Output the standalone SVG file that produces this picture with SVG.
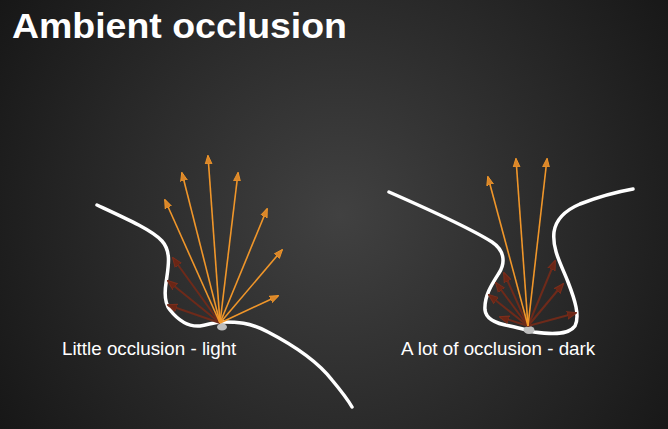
<svg xmlns="http://www.w3.org/2000/svg" width="668" height="429" viewBox="0 0 668 429">
<defs>
<radialGradient id="bg" cx="340" cy="215" r="420" gradientUnits="userSpaceOnUse">
<stop offset="0" stop-color="#414141"/>
<stop offset="1" stop-color="#151515"/>
</radialGradient>
<marker id="ao" viewBox="0 0 10 10" refX="9" refY="5" markerWidth="9" markerHeight="9" orient="auto" markerUnits="userSpaceOnUse">
<path d="M0,1.2 L10,5 L0,8.8 Z" fill="#d9862a" stroke="#f0962a" stroke-width="1"/>
</marker>
<marker id="ar" viewBox="0 0 10 10" refX="9" refY="5" markerWidth="10" markerHeight="10" orient="auto" markerUnits="userSpaceOnUse">
<path d="M0,1.2 L10,5 L0,8.8 Z" fill="#6a2616" stroke="#7a2e1c" stroke-width="1"/>
</marker>
<style>
.surf{fill:none;stroke:#ffffff;stroke-width:3.5;stroke-linecap:round;stroke-linejoin:round}
.o{stroke:#f0962a;stroke-width:1.6;marker-end:url(#ao)}
.r{stroke:#6e2a1a;stroke-width:2;marker-end:url(#ar)}
.lbl{font-family:"Liberation Sans",Arial,sans-serif;font-size:18.8px;fill:#ffffff}
</style>
</defs>
<rect width="668" height="429" fill="url(#bg)"/>
<text x="12" y="38" font-family="Liberation Sans,Arial,sans-serif" font-weight="bold" font-size="35" fill="#ffffff" textLength="335" lengthAdjust="spacingAndGlyphs">Ambient occlusion</text>

<g id="left-surface">
<path class="surf" d="M97,205 C125,218 152,230 162,241 C172,252 168,268 166,283 C164,296 166,305 170,310 C178,320 188,327 200,326 C208,325 214,322 222,322 C236,322 250,322 268,332 C295,346 318,362 332,380 C342,392 348,400 352,407"/>
<ellipse cx="222" cy="327" rx="5" ry="3.5" fill="#bdbdbd"/>
</g>
<g id="right-surface">
<path class="surf" d="M389,192 C430,210 470,228 492,242 C504,250 506,262 499,273 C492,284 484,296 485,310 C486,320 498,324 510,326 C520,328 526,330 534,332 C548,334 568,336 575,326 C580,316 575,300 568,282 C562,266 552,250 554,232 C556,218 566,210 580,204 C598,197 616,192 633,189"/>
<ellipse cx="529" cy="330" rx="5.5" ry="4" fill="#bdbdbd"/>
</g>

<g id="connectors">
<line class="r" x1="220" y1="323" x2="173" y2="258"/>
<line class="r" x1="220" y1="323" x2="168" y2="281"/>
<line class="r" x1="220" y1="323" x2="168" y2="305"/>
<line class="o" x1="220" y1="323" x2="165" y2="200"/>
<line class="o" x1="220" y1="323" x2="182" y2="173"/>
<line class="o" x1="220" y1="323" x2="208" y2="156"/>
<line class="o" x1="220" y1="323" x2="238" y2="173"/>
<line class="o" x1="220" y1="323" x2="267" y2="209"/>
<line class="o" x1="220" y1="323" x2="282" y2="250"/>
<line class="o" x1="220" y1="323" x2="278" y2="296"/>

<line class="r" x1="528" y1="326" x2="500" y2="317"/>
<line class="r" x1="528" y1="326" x2="489" y2="295"/>
<line class="r" x1="528" y1="326" x2="496" y2="283"/>
<line class="r" x1="528" y1="326" x2="504" y2="273"/>
<line class="r" x1="528" y1="326" x2="555" y2="261"/>
<line class="r" x1="528" y1="326" x2="563" y2="284"/>
<line class="r" x1="528" y1="326" x2="576" y2="313"/>
<line class="o" x1="528" y1="326" x2="488" y2="177"/>
<line class="o" x1="528" y1="326" x2="516" y2="159"/>
<line class="o" x1="528" y1="326" x2="547" y2="159"/>
</g>

<text class="lbl" x="62" y="355">Little occlusion - light</text>
<text class="lbl" x="401" y="355">A lot of occlusion - dark</text>
</svg>
